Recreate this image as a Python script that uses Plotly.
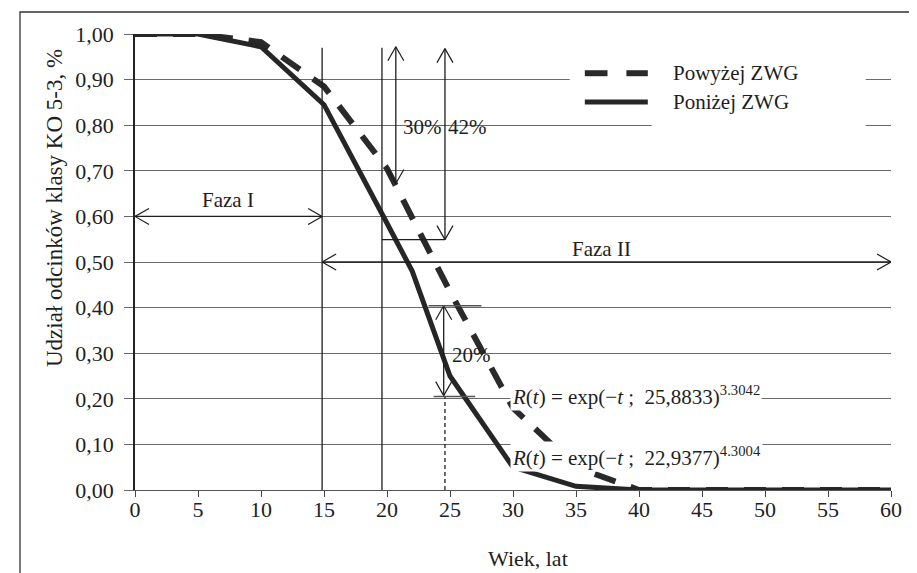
import plotly.graph_objects as go

# ---------------- data ----------------
age_below = [0, 5, 10, 15, 20, 22, 25, 30, 35, 40, 45, 50, 55, 60]
share_below = [1.0, 1.0, 0.972, 0.845, 0.585, 0.48, 0.25, 0.05, 0.008, 0.0, 0.0, 0.0, 0.0, 0.0]

age_above = [0, 5, 10, 15, 20, 25, 30, 35, 40, 45, 50, 55, 60]
share_above = [1.0, 1.0, 0.982, 0.885, 0.705, 0.435, 0.18, 0.05, 0.0, 0.0, 0.0, 0.0, 0.0]

x_ticks = [0, 5, 10, 15, 20, 25, 30, 35, 40, 45, 50, 55, 60]
y_ticks = [0.0, 0.1, 0.2, 0.3, 0.4, 0.5, 0.6, 0.7, 0.8, 0.9, 1.0]
y_tick_labels = ["0,00", "0,10", "0,20", "0,30", "0,40", "0,50", "0,60", "0,70", "0,80", "0,90", "1,00"]

series_names = ["Powyżej ZWG", "Poniżej ZWG"]
formula_above = "<i>R</i>(<i>t</i>) = exp(−<i>t</i> ;  25,8833)<sup>3.3042</sup>"
formula_below = "<i>R</i>(<i>t</i>) = exp(−<i>t</i> ;  22,9377)<sup>4.3004</sup>"

# ---------------- layout geometry ----------------
W, H = 917, 573
ML, MR, MT, MB = 127, 34, 26, 91
PX_X = (W - ML - MR) / 60.0
PX_Y = (H - MT - MB) / 1.0
INK = "#1e1e1e"
FONT = "Liberation Serif"

shapes = []


def seg(x0, y0, x1, y1, w=1.3, dash=None, color=INK):
    ln = dict(color=color, width=w)
    if dash:
        ln["dash"] = dash
    shapes.append(dict(type="line", xref="x", yref="y", x0=x0, y0=y0, x1=x1, y1=y1,
                       line=ln, layer="above"))


def head(xt, yt, ux, uy, L=14, Wd=8):
    bx = xt - ux * L / PX_X
    by = yt - uy * L / PX_Y
    for s in (1, -1):
        seg(xt, yt, bx + s * (-uy) * Wd / PX_X, by + s * ux * Wd / PX_Y, w=1.2)


def darrow(x0, y0, x1, y1):
    seg(x0, y0, x1, y1)
    dx, dy = (x1 - x0) * PX_X, (y1 - y0) * PX_Y
    n = (dx * dx + dy * dy) ** 0.5
    ux, uy = dx / n, dy / n
    head(x1, y1, ux, uy)
    head(x0, y0, -ux, -uy)


# ---------------- figure ----------------
fig = go.Figure()
fig.add_trace(go.Scatter(x=age_above, y=share_above, mode="lines", name=series_names[0],
                         line=dict(color="#2a2a2a", width=6, dash="22px,16px"),
                         cliponaxis=False, showlegend=False))
fig.add_trace(go.Scatter(x=age_below, y=share_below, mode="lines", name=series_names[1],
                         line=dict(color="#262626", width=5),
                         cliponaxis=False, showlegend=False))

# vertical reference lines
seg(14.85, 0, 14.85, 0.97, w=1.3)
seg(19.6, 0, 19.6, 0.97, w=1.3)
seg(24.6, 0, 24.6, 0.205, w=1.3, dash="4px,3px")

# phase arrows
darrow(0, 0.6, 14.85, 0.6)
darrow(14.85, 0.5, 60, 0.5)

# 30 % / 42 % arrows
darrow(20.7, 0.972, 20.7, 0.672)
darrow(24.6, 0.968, 24.6, 0.549)
seg(19.6, 0.549, 24.6, 0.549)

# 20 % arrow
darrow(24.5, 0.404, 24.5, 0.207)
seg(23.3, 0.404, 27.5, 0.404, w=1.6, color="#555")
seg(23.7, 0.205, 27.0, 0.205, w=1.6, color="#555")

# manual legend
shapes.append(dict(type="rect", xref="x", yref="y", x0=34.5, x1=58.0, y0=0.84, y1=0.985,
                   fillcolor="white", line=dict(width=0), layer="above"))
shapes.append(dict(type="rect", xref="x", yref="y", x0=41.0, x1=58.0, y0=0.78, y1=0.84,
                   fillcolor="white", line=dict(width=0), layer="above"))
seg(35.7, 0.914, 37.5, 0.914, w=6, color="#2a2a2a")
seg(39.0, 0.914, 40.7, 0.914, w=6, color="#2a2a2a")
seg(35.7, 0.851, 40.7, 0.851, w=5, color="#262626")

# outer frame
shapes.append(dict(type="rect", xref="paper", yref="paper",
                   x0=(12 - ML) / (W - ML - MR), x1=(912 - ML) / (W - ML - MR),
                   y0=(H - MB - 580) / PX_Y, y1=(H - MB - 4) / PX_Y,
                   line=dict(color="#333", width=1.3), fillcolor="rgba(0,0,0,0)"))

annotations = [
    dict(x=42.5, y=0.914, text=series_names[0], xanchor="left", yanchor="middle"),
    dict(x=42.5, y=0.851, text=series_names[1], xanchor="left", yanchor="middle"),
    dict(x=7.4, y=0.635, text="Faza I", xanchor="center", yanchor="middle"),
    dict(x=37.0, y=0.528, text="Faza II", xanchor="center", yanchor="middle"),
    dict(x=22.8, y=0.795, text="30%", xanchor="center", yanchor="middle"),
    dict(x=26.4, y=0.795, text="42%", xanchor="center", yanchor="middle"),
    dict(x=26.7, y=0.295, text="20%", xanchor="center", yanchor="middle"),
    dict(x=29.8, y=0.207, text=formula_above, xanchor="left", yanchor="middle",
         bgcolor="white", borderpad=1),
    dict(x=29.8, y=0.073, text=formula_below, xanchor="left", yanchor="middle",
         bgcolor="white", borderpad=1),
]
for a in annotations:
    a.update(xref="x", yref="y", showarrow=False, font=dict(family=FONT, size=21, color=INK))

annotations.append(dict(xref="paper", yref="paper", x=(47 - ML) / (W - ML - MR),
                        y=(H - MB - 200) / PX_Y, text="Udział odcinków klasy KO 5-3, %",
                        textangle=-90, showarrow=False, xanchor="center", yanchor="middle",
                        font=dict(family=FONT, size=23, color=INK)))
annotations.append(dict(xref="paper", yref="paper", x=(520 - ML) / (W - ML - MR),
                        y=(H - MB - 550) / PX_Y, text="Wiek, lat",
                        showarrow=False, xanchor="center", yanchor="middle",
                        font=dict(family=FONT, size=22, color=INK)))

fig.update_layout(
    width=W, height=H,
    margin=dict(l=ML, r=MR, t=MT, b=MB),
    paper_bgcolor="white", plot_bgcolor="white",
    font=dict(family=FONT, size=22, color=INK),
    shapes=shapes, annotations=annotations,
    showlegend=False,
    xaxis=dict(range=[0, 60], tickvals=x_ticks, ticktext=[str(v) for v in x_ticks],
               showgrid=False, zeroline=False, showline=True, linecolor="#555", linewidth=1.3,
               ticks="outside", ticklen=6, tickcolor="#444", tickwidth=1.2,
               ticklabelstandoff=-7,
               tickfont=dict(family=FONT, size=22, color=INK), fixedrange=True),
    yaxis=dict(range=[0, 1], tickvals=y_ticks, ticktext=y_tick_labels,
               showgrid=True, gridcolor="#6a6a6a", gridwidth=1.2, zeroline=False,
               showline=True, linecolor="#222", linewidth=1.5,
               ticks="outside", ticklen=9, tickcolor="#666", tickwidth=1.2,
               ticklabelstandoff=6,
               tickfont=dict(family=FONT, size=22, color=INK), fixedrange=True),
)

fig.write_html("out.html")
